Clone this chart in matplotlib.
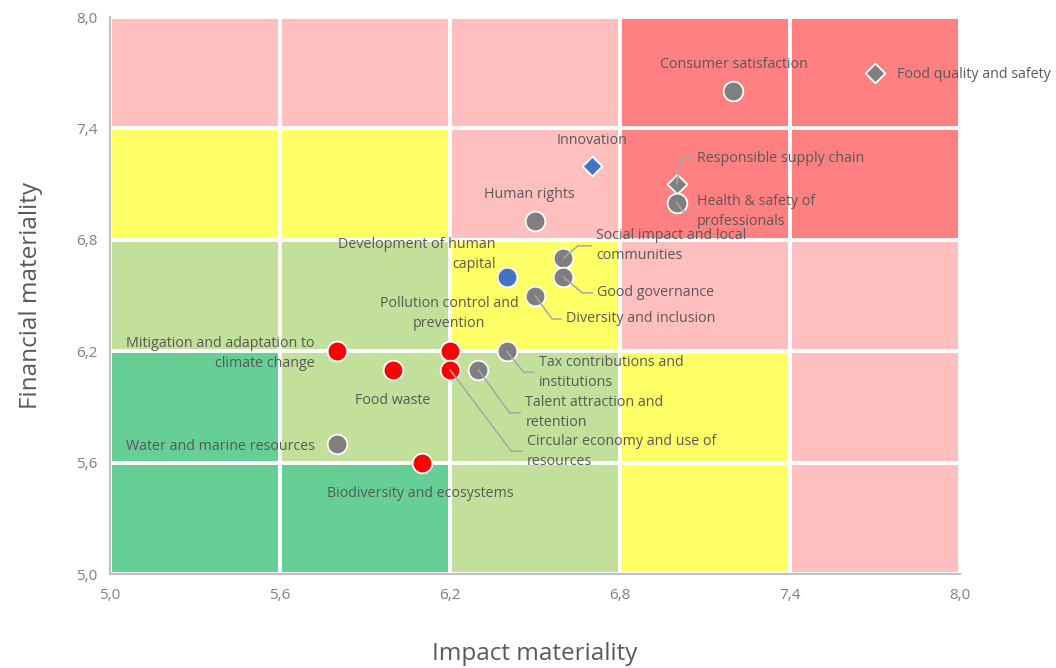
import numpy as np
import matplotlib.pyplot as plt
from matplotlib.colors import ListedColormap

plt.rcParams['font.family'] = ['Open Sans', 'DejaVu Sans']

# materiality topics
topics = [
    'Consumer satisfaction', 'Food quality and safety', 'Innovation',
    'Responsible supply chain', 'Health & safety of\nprofessionals', 'Human rights',
    'Development of human\ncapital', 'Social impact and local\ncommunities',
    'Good governance', 'Diversity and inclusion', 'Pollution control and\nprevention',
    'Mitigation and adaptation to\nclimate change', 'Food waste',
    'Tax contributions and\ninstitutions', 'Talent attraction and\nretention',
    'Circular economy and use of\nresources', 'Water and marine resources',
    'Biodiversity and ecosystems',
]
impact = [7.2, 7.7, 6.7, 7.0, 7.0, 6.5, 6.4, 6.6, 6.6, 6.5, 6.2, 5.8, 6.0, 6.4, 6.3, 6.2, 5.8, 6.1]
financial = [7.6, 7.7, 7.2, 7.1, 7.0, 6.9, 6.6, 6.7, 6.6, 6.5, 6.2, 6.2, 6.1, 6.2, 6.1, 6.1, 5.7, 5.6]
group = ['grey', 'grey', 'blue', 'grey', 'grey', 'grey', 'blue', 'grey', 'grey', 'grey',
         'red', 'red', 'red', 'grey', 'grey', 'red', 'grey', 'red']
shape = ['o', 'D', 'D', 'D', 'o', 'o', 'o', 'o', 'o', 'o',
         'o', 'o', 'o', 'o', 'o', 'o', 'o', 'o']

# heat zones, rows from bottom (5,0-5,6) to top (7,4-8,0)
edges = [5.0, 5.6, 6.2, 6.8, 7.4, 8.0]
zones = np.array([
    [4, 4, 3, 2, 1],
    [4, 3, 3, 2, 1],
    [3, 3, 2, 1, 1],
    [2, 2, 1, 0, 0],
    [1, 1, 1, 0, 0],
])
zone_colors = ['#ff8080', '#ffbfbf', '#ffff66', '#c2e09a', '#66cf96']
point_colors = {'grey': '#7f7f7f', 'red': '#ff0000', 'blue': '#4472c4'}

# label placement: offset in pixels, alignment, leader angle (None = no leader)
label_layout = [
    ((1, 27), 'center', None), ((22, -2), 'left', None), ((0, 25), 'center', None),
    ((20, 26), 'left', 80), ((20, -9), 'left', -54), ((-6, 27), 'center', None),
    ((-11, 22.5), 'right', None), ((33, 12.5), 'left', 41), ((34, -16), 'left', -40),
    ((31, -23.5), 'left', -54), ((-1, 38), 'center', None), ((-22, -2), 'right', None),
    ((-1, -31), 'center', None), ((32, -21), 'left', -51), ((47, -43), 'left', -54),
    ((77, -81.5), 'left', -53), ((-22, -2), 'right', None), ((-1, -31), 'center', None),
]

fig = plt.figure(figsize=(10.56, 6.68), dpi=100)
ax = fig.add_axes([110 / 1056, 94 / 668, 850 / 1056, 557 / 668])

ax.pcolormesh(edges, edges, zones, cmap=ListedColormap(zone_colors), vmin=-0.5, vmax=4.5,
              zorder=0)
ax.set_axisbelow(False)
ax.grid(color='white', lw=2.8, zorder=1)

for x, y, g, m in zip(impact, financial, group, shape):
    s = 200 if m == 'o' else 100
    ax.scatter(x, y, s=s, marker=m, color=point_colors[g], edgecolors='white',
               linewidths=1.3, zorder=3)

for name, x, y, (off, ha, ang) in zip(topics, impact, financial, label_layout):
    kw = {}
    if ang is not None:
        kw['arrowprops'] = dict(arrowstyle='-', color='#a6a6a6', lw=1.1, shrinkA=1.5, shrinkB=0,
                                relpos=(0, 0.5),
                                connectionstyle=f'angle,angleA=0,angleB={ang},rad=0')
    ax.annotate(name, (x, y), xytext=off, textcoords='offset pixels', ha=ha, va='center',
                multialignment=ha if ha != 'center' else 'center', fontsize=10.3,
                color='#595959', linespacing=1.45, zorder=4, **kw)

ax.set_xlim(5, 8)
ax.set_ylim(5, 8)
ticks = np.arange(5.0, 8.01, 0.6)
ax.set_xticks(ticks)
ax.set_yticks(ticks)
ax.set_xticklabels([f'{t:.1f}'.replace('.', ',') for t in ticks])
ax.set_yticklabels([f'{t:.1f}'.replace('.', ',') for t in ticks])
ax.tick_params(length=0, labelsize=11, labelcolor='#7f7f7f')
ax.tick_params(axis='x', pad=10)
ax.tick_params(axis='y', pad=9)
for side in ['top', 'right']:
    ax.spines[side].set_visible(False)
for side in ['left', 'bottom']:
    ax.spines[side].set_color('#bfbfbf')
    ax.spines[side].set_linewidth(1.5)
    ax.spines[side].set_zorder(5)

ax.set_xlabel('Impact materiality', fontsize=17.5, color='#595959', labelpad=28)
ax.set_ylabel('Financial materiality', fontsize=17.5, color='#595959', labelpad=24)

fig.savefig('out.png', dpi=100)
